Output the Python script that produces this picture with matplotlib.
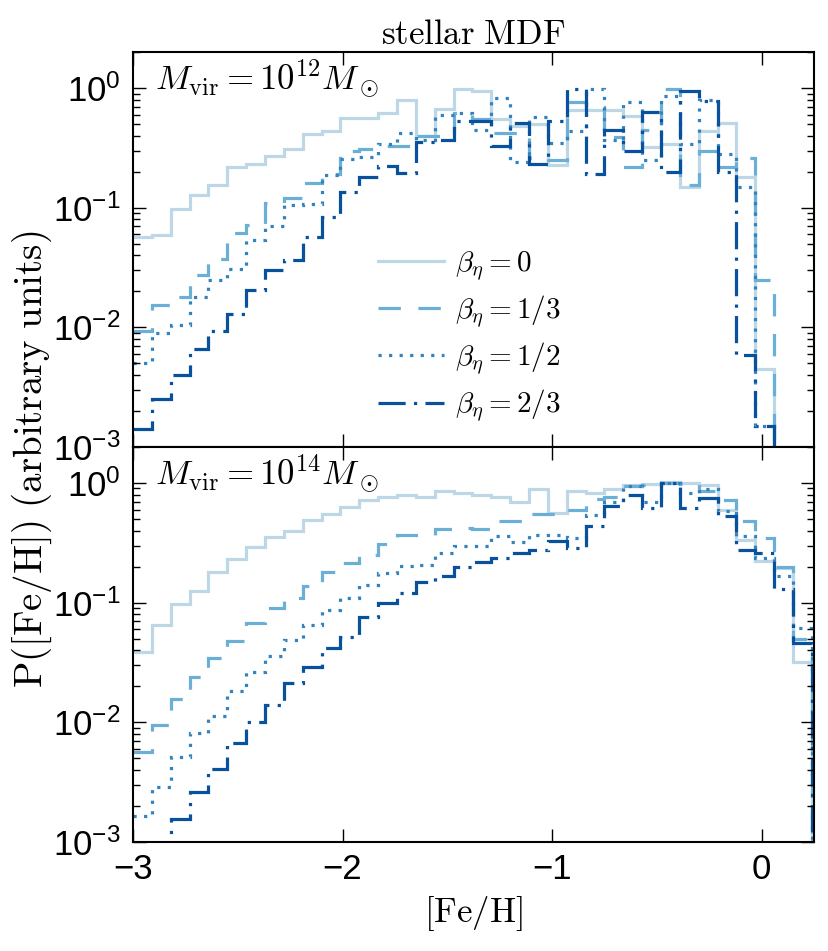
import numpy as np
import matplotlib
matplotlib.use("Agg")
import matplotlib.pyplot as plt

# [Fe/H] bins: width 0.09 starting at -3
n_bins = 37
feh_edges = -3.0 + 0.09 * np.arange(n_bins + 1)

beta_labels = [r"$\beta_\eta=0$", r"$\beta_\eta=1/3$", r"$\beta_\eta=1/2$", r"$\beta_\eta=2/3$"]

# Mvir = 1e12 Msun
mdf_12_b0 = [0.057, 0.059, 0.0975, 0.128, 0.155, 0.217, 0.231, 0.271, 0.308, 0.411,
             0.438, 0.559, 0.559, 0.623, 0.789, 0.398, 0.664, 0.99, 0.94, 0.555,
             0.48, 0.50, 0.227, 0.655, 0.655, 0.655, 0.58, 0.32, 0.34, 0.148,
             0.44, 0.51, 0.18, 0.0045, 0, 0, 0]
mdf_12_b13 = [0.0094, 0.0155, 0.018, 0.0275, 0.037, 0.062, 0.072, 0.109, 0.12, 0.16,
              0.19, 0.30, 0.31, 0.33, 0.33, 0.40, 0.40, 0.62, 0.55, 0.42,
              0.42, 0.26, 0.25, 0.76, 0.70, 0.39, 0.22, 0.45, 0.99, 0.155,
              0.30, 0.22, 0.26, 0.025, 0, 0, 0]
mdf_12_b12 = [0.005, 0.009, 0.0105, 0.018, 0.025, 0.031, 0.054, 0.07, 0.105, 0.107,
              0.187, 0.253, 0.266, 0.34, 0.42, 0.37, 0.60, 0.62, 0.45, 0.83,
              0.24, 0.57, 0.35, 0.44, 0.99, 0.37, 0.76, 0.25, 0.86, 0.34,
              0.80, 0.28, 0.15, 0.0015, 0, 0, 0]
mdf_12_b23 = [0.00142, 0.00253, 0.004, 0.0066, 0.0094, 0.0128, 0.0204, 0.030, 0.0366, 0.057,
              0.084, 0.136, 0.181, 0.222, 0.196, 0.355, 0.37, 0.53, 0.53, 0.33,
              0.51, 0.23, 0.53, 0.98, 0.19, 0.45, 0.30, 0.63, 0.20, 0.95,
              0.78, 0.20, 0.0059, 0.0015, 0, 0, 0]

# Mvir = 1e14 Msun
mdf_14_b0 = [0.039, 0.065, 0.098, 0.126, 0.179, 0.233, 0.291, 0.353, 0.40, 0.487,
             0.554, 0.626, 0.726, 0.759, 0.794, 0.77, 0.85, 0.82, 0.80, 0.77,
             0.70, 0.89, 0.56, 0.85, 0.82, 0.89, 0.97, 0.99, 1.01, 1.0,
             0.97, 0.60, 0.336, 0.221, 0.194, 0.032, 0]
mdf_14_b13 = [0.0056, 0.0095, 0.0156, 0.0237, 0.0343, 0.0482, 0.0673, 0.09, 0.109, 0.139,
              0.182, 0.214, 0.251, 0.31, 0.37, 0.37, 0.41, 0.42, 0.41, 0.48,
              0.48, 0.55, 0.55, 0.60, 0.73, 0.76, 0.95, 0.97, 1.0, 0.98,
              0.85, 0.72, 0.48, 0.35, 0.20, 0.05, 0]
mdf_14_b12 = [0.00164, 0.00286, 0.00516, 0.0081, 0.0113, 0.0184, 0.0265, 0.0359, 0.0489, 0.065,
              0.087, 0.109, 0.141, 0.177, 0.201, 0.207, 0.26, 0.295, 0.295, 0.358,
              0.32, 0.37, 0.37, 0.35, 0.54, 0.70, 0.94, 0.70, 1.0, 0.82,
              0.89, 0.58, 0.36, 0.236, 0.168, 0.061, 0]
mdf_14_b23 = [0.0005, 0.0008, 0.00157, 0.00263, 0.0041, 0.0067, 0.0101, 0.014, 0.0212, 0.0292,
              0.0416, 0.0514, 0.0766, 0.10, 0.12, 0.148, 0.166, 0.20, 0.217, 0.236,
              0.26, 0.277, 0.325, 0.286, 0.434, 0.64, 0.80, 0.62, 1.0, 0.62,
              0.75, 0.53, 0.277, 0.26, 0.13, 0.046, 0]

colors = ["#bdd7e7", "#6baed6", "#3182bd", "#08519c"]
styles = ["-", (0, (7, 5.5)), (0, (1, 2.3)), (0, (8.5, 2.6, 1.0, 2.6))]

plt.rcParams["font.family"] = ["Liberation Sans", "DejaVu Sans"]
plt.rcParams["mathtext.fontset"] = "custom"
plt.rcParams["mathtext.rm"] = "Liberation Sans"
plt.rcParams["mathtext.it"] = "Liberation Sans:italic"
plt.rcParams["mathtext.bf"] = "Liberation Sans:bold"

fig = plt.figure(figsize=(8.29, 9.51), dpi=100)
ax1 = fig.add_axes([0.1604, 0.5300, 0.8215, 0.4153])
ax2 = fig.add_axes([0.1604, 0.1146, 0.8215, 0.4154])

panels = [
    (ax1, [mdf_12_b0, mdf_12_b13, mdf_12_b12, mdf_12_b23], r"$M_{\rm vir}=10^{12}M_\odot$"),
    (ax2, [mdf_14_b0, mdf_14_b13, mdf_14_b12, mdf_14_b23], r"$M_{\rm vir}=10^{14}M_\odot$"),
]

for ax, series, name in panels:
    for vals, c, ls, lab in zip(series, colors, styles, beta_labels):
        v = np.array(vals, dtype=float)
        v = np.where(v > 0, v, 1e-6)  # empty bins drop off the log axis
        ax.stairs(v, feh_edges, baseline=None, color=c, linestyle=ls,
                  linewidth=2.3, label=lab)
    ax.set_yscale("log")
    ax.set_ylim(1e-3, 2)
    ax.set_xlim(-3, 0.25)
    ax.set_xticks([-3, -2, -1, 0])
    ax.tick_params(which="both", direction="in", top=True, right=True,
                   labelsize=25, width=1.0)
    ax.tick_params(which="major", length=9.5)
    ax.tick_params(which="minor", length=5)
    ax.tick_params(axis="y", pad=9)
    ax.tick_params(axis="x", pad=8)
    for sp in ax.spines.values():
        sp.set_linewidth(1.5)
    ax.text(0.032, 0.985, name, transform=ax.transAxes, ha="left", va="top",
            fontsize=25, math_fontfamily="cm")

ax1.tick_params(labelbottom=False)

leg = ax1.legend(loc="upper left", bbox_to_anchor=(0.36, 0.50), frameon=False,
                 fontsize=21, handlelength=2.25, handletextpad=0.4,
                 labelspacing=0.36, borderpad=0, borderaxespad=0)
for t in leg.get_texts():
    t.set_math_fontfamily("cm")

ax1.set_title(r"$\mathrm{stellar\ MDF}$", fontsize=25, math_fontfamily="cm", pad=6)
ax2.set_xlabel(r"$\mathrm{[Fe/H]}$", fontsize=25, math_fontfamily="cm", labelpad=6)
fig.text(0.038, 0.517, r"$\mathrm{P([Fe/H])\ (arbitrary\ units)}$", rotation=90,
         ha="center", va="center", fontsize=28, math_fontfamily="cm")

fig.savefig("out.png", dpi=100)
